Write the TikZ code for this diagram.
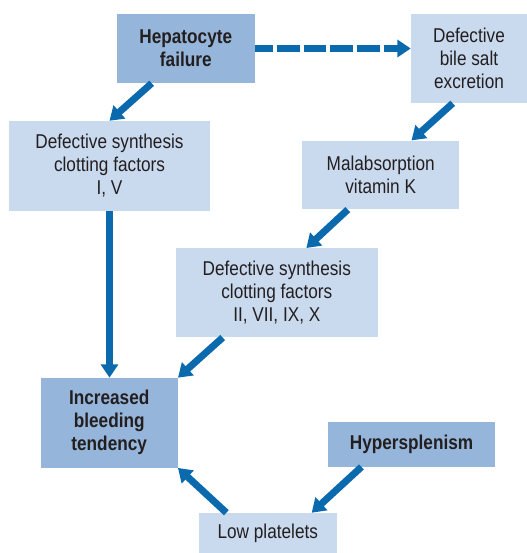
\documentclass[tikz,border=0pt]{standalone}
\usepackage{fontspec}
\setmainfont{Liberation Sans}[FakeStretch=0.86]
\usetikzlibrary{arrows.meta,calc}
\definecolor{boxdark}{HTML}{95B5DA}
\definecolor{boxlight}{HTML}{C9D9EE}
\definecolor{arrowblue}{HTML}{0B6AAE}
\definecolor{ink}{HTML}{231F20}
\begin{document}
\begin{tikzpicture}[x=0.75pt,y=-0.75pt,
  box/.style={fill=boxlight, draw=none, align=center, inner sep=0pt, text=ink,
    font=\fontsize{15}{17.25}\selectfont},
  keybox/.style={box, fill=boxdark, font=\fontsize{15}{17.25}\selectfont\bfseries},
  flow/.style={draw=arrowblue, line width=5.25pt,
    -{Triangle[width=12.75pt,length=10pt]}},
  dashflow/.style={flow, dash pattern=on 17pt off 3pt, dash phase=3.75pt}]
\useasboundingbox (0,0) rectangle (527,553);

% boxes
\node[keybox, minimum width=103.7pt, minimum height=51.75pt] (hep) at (185.8,48.5) {Hepatocyte\\failure};
\node[box, minimum width=87pt, minimum height=66.75pt] (bile) at (469,58.5) {Defective\\bile salt\\excretion};
\node[box, minimum width=150.75pt, minimum height=67.3pt] (cfa) at (109.5,165.9) {Defective synthesis\\clotting factors\\I, V};
\node[box, minimum width=117.5pt, minimum height=51.5pt] (malab) at (380.7,175) {Malabsorption\\vitamin K};
\node[box, minimum width=151.3pt, minimum height=66.75pt] (cfb) at (276.8,292.8) {Defective synthesis\\clotting factors\\II, VII, IX, X};
\node[keybox, minimum width=102.75pt, minimum height=67.3pt] (bleed) at (109.2,422.8) {Increased\\bleeding\\tendency};
\node[keybox, minimum width=125.25pt, minimum height=33.5pt] (hyper) at (411.5,444.3) {Hypersplenism};
\node[box, minimum width=103.3pt, minimum height=30pt] (plt) at (267.8,533) {Low platelets};

% connectors
\draw[dashflow] (hep.east) -- (hep.east -| bile.west);
\draw[flow] ($(hep.south west)+(35.3,0)$) -- (cfa.north);
\draw[flow] ($(bile.south west)+(42,0)$) -- ($(malab.north west)+(109.4,0)$);
\draw[flow] ($(malab.south west)+(45.7,0)$) -- ($(cfb.north west)+(130.7,0)$);
\draw[flow] (cfa.south) -- (cfa.south |- bleed.north);
\draw[flow] ($(cfb.south west)+(47,0)$) -- (bleed.north east);
\draw[flow] ($(hyper.south west)+(33.7,0)$) -- ($(plt.north west)+(113,0)$);
\draw[flow] ($(plt.north west)+(27.7,0)$) -- (bleed.south east);
\end{tikzpicture}
\end{document}
